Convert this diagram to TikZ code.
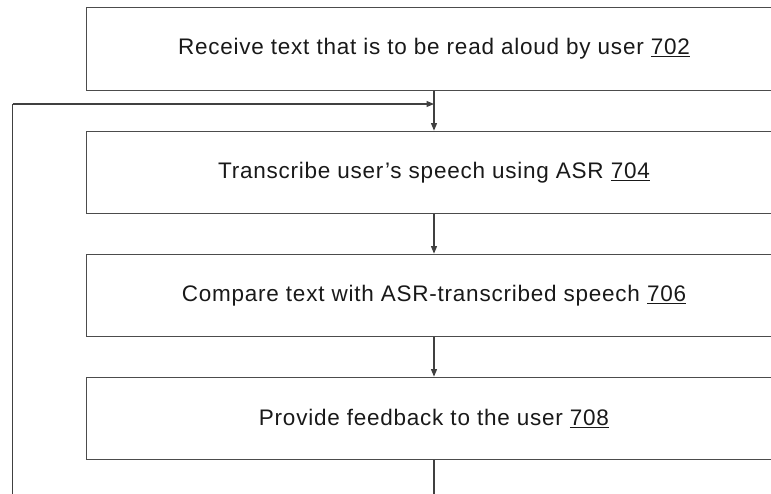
\documentclass[tikz,border=0pt]{standalone}
\usepackage{fontspec}
\setmainfont{Liberation Sans}[LetterSpace=3.4]
\usetikzlibrary{arrows.meta}
\newcommand{\steplabel}[2]{#1 \underline{#2}}
\begin{document}
\begin{tikzpicture}[x=1pt,y=-1pt,
  stepbox/.style={draw=black!70, line width=1.3pt, rectangle,
    minimum width=695pt, minimum height=82.5pt, inner sep=0pt,
    font=\fontsize{22.5}{26}\selectfont, text=black!90},
  flow/.style={draw=black!75, line width=1.1pt,
    -{Triangle[length=7.5pt,width=6pt]}},
  loopline/.style={draw=black!75, line width=1.1pt}]
\useasboundingbox (0,0) rectangle (771,493);
\clip (0,0) rectangle (771,493);
\node[stepbox] (s702) at (434,49)    {\steplabel{Receive text that is to be read aloud by user}{702}};
\node[stepbox] (s704) at (434,172.5) {\steplabel{Transcribe user’s speech using ASR}{704}};
\node[stepbox] (s706) at (434,295.5) {\steplabel{Compare text with ASR-transcribed speech}{706}};
\node[stepbox] (s708) at (434,418.5) {\steplabel{Provide feedback to the user}{708}};
% feedback loop back to the top
\coordinate (rb) at (434,510);
\coordinate (lb) at (12.5,510);
\coordinate (lt) at (12.5,104);
\coordinate (join) at (434,104);
\draw[flow] (s702.south) -- (s704.north);
\draw[flow] (s704.south) -- (s706.north);
\draw[flow] (s706.south) -- (s708.north);
\draw[loopline] (s708.south) -- (rb) -- (lb) -- (lt);
\draw[flow] (lt) -- (join);
\end{tikzpicture}
\end{document}
